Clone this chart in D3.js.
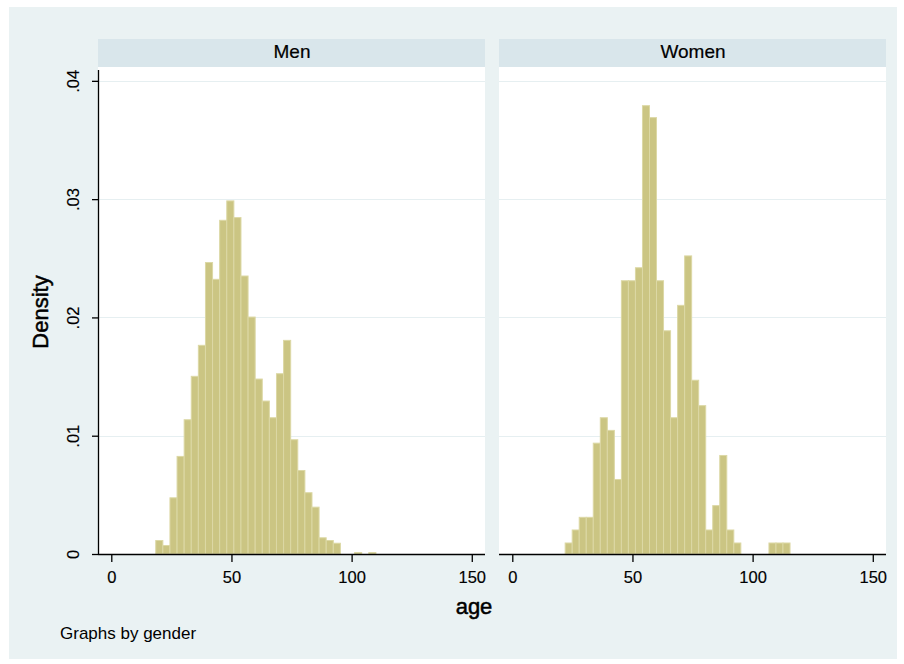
<!DOCTYPE html>
<html>
<head>
<meta charset="utf-8">
<script src="https://cdn.jsdelivr.net/npm/d3@7"></script>
<style>
  html, body { margin: 0; padding: 0; background: #ffffff; }
  svg { display: block; }
  text { font-family: "Liberation Sans", Arial, sans-serif; fill: #000; }
</style>
</head>
<body>
<script>
// Age histograms (density scale), one panel per gender
const panels = ["Men", "Women"];

// Men: 31 bins starting at 18.5, each 2.955 years wide
const menBinStart = 18.5;
const menBinWidth = 2.955;
const menDensity = [
  0.00114, 0.00072, 0.00475, 0.00825, 0.01135, 0.01502, 0.01764, 0.02464,
  0.02322, 0.02821, 0.02985, 0.02844, 0.02350, 0.02003, 0.01479, 0.01293,
  0.01152, 0.01524, 0.01806, 0.00966, 0.00706, 0.00518, 0.00396, 0.00137,
  0.00114, 0.00091, 0, 0, 0.00012, 0, 0.00012
];

// Women: 32 bins starting at 22.0, each 2.924 years wide
const womenBinStart = 22.0;
const womenBinWidth = 2.924;
const womenDensity = [
  0.00093, 0.00203, 0.00310, 0.00310, 0.00937, 0.01152, 0.01045, 0.00630,
  0.02310, 0.02310, 0.02420, 0.03790, 0.03689, 0.02310, 0.01887, 0.01152,
  0.02102, 0.02520, 0.01469, 0.01254, 0.00203, 0.00409, 0.00833, 0.00203,
  0.00093, 0, 0, 0, 0, 0.00093, 0.00093, 0.00093
];

const xTicks = [0, 50, 100, 150];
const yTicks = [0, 0.01, 0.02, 0.03, 0.04];
const yTickLabels = ["0", ".01", ".02", ".03", ".04"];

const xTitle = "age";
const yTitle = "Density";
const note = "Graphs by gender";

const series = [
  { name: panels[0], start: menBinStart, width: menBinWidth, values: menDensity },
  { name: panels[1], start: womenBinStart, width: womenBinWidth, values: womenDensity }
];

const W = 904, H = 664;
const svg = d3.select("body").append("svg").attr("width", W).attr("height", H);

// outer graph region
svg.append("rect").attr("x", 9).attr("y", 7).attr("width", 888).attr("height", 652)
  .attr("fill", "#eaf2f3");

const panelLeft = [98, 499];
const panelW = 387;
const stripTop = 39, plotTop = 67, plotBottom = 554;

const x = d3.scaleLinear().domain([-5.53, 155.5]).range([0, panelW]);
const y = d3.scaleLinear().domain([0, 0.04117]).range([plotBottom, plotTop]);

const fillCol = "#cbc583";
const edgeCol = "#dcd8a5";

series.forEach((s, pi) => {
  const g = svg.append("g").attr("transform", `translate(${panelLeft[pi]},0)`);

  // strip label
  g.append("rect").attr("x", 0).attr("y", stripTop).attr("width", panelW)
    .attr("height", plotTop - stripTop).attr("fill", "#d9e6eb");
  g.append("text").attr("x", panelW / 2 + 0.5).attr("y", 58)
    .attr("text-anchor", "middle").attr("font-size", 19)
    .attr("stroke", "#000").attr("stroke-width", 0.2).text(s.name);

  // plot area
  g.append("rect").attr("x", 0).attr("y", plotTop).attr("width", panelW)
    .attr("height", plotBottom - plotTop).attr("fill", "#ffffff");

  // horizontal grid
  g.selectAll("line.grid").data(yTicks.slice(1)).enter().append("line")
    .attr("x1", 0).attr("x2", panelW)
    .attr("y1", d => Math.round(y(d)) + 0.5).attr("y2", d => Math.round(y(d)) + 0.5)
    .attr("stroke", "#e6eff1").attr("stroke-width", 1.2);

  // bars
  const bins = s.values.map((v, i) => ({ x0: s.start + i * s.width, x1: s.start + (i + 1) * s.width, v }));
  g.selectAll("rect.bar").data(bins.filter(b => b.v > 0)).enter().append("rect")
    .attr("x", d => x(d.x0))
    .attr("width", d => x(d.x1) - x(d.x0))
    .attr("y", d => y(d.v))
    .attr("height", d => y(0) - y(d.v))
    .attr("fill", fillCol)
    .attr("stroke", edgeCol)
    .attr("stroke-width", 1);

  // x axis
  const xAxis = d3.axisBottom(x).tickValues(xTicks).tickSize(8).tickPadding(9)
    .tickFormat(d3.format("d"));
  const ax = g.append("g").attr("transform", `translate(0,${plotBottom})`).call(xAxis);
  ax.select(".domain").attr("d", `M0,0.5H${panelW}`).attr("stroke", "#000").attr("stroke-width", 1.3);
  ax.selectAll(".tick line").attr("stroke", "#000").attr("stroke-width", 1.3);
  ax.selectAll(".tick text").attr("font-size", 16.5)
    .attr("font-family", '"Liberation Sans", Arial, sans-serif').attr("fill", "#000")
    .attr("stroke", "#000").attr("stroke-width", 0.15);

  // y axis on first panel only
  if (pi === 0) {
    const yAxis = d3.axisLeft(y).tickValues(yTicks).tickSize(6)
      .tickFormat((d, i) => yTickLabels[i]);
    const ay = g.append("g").call(yAxis);
    ay.select(".domain").attr("d", `M0.5,${plotTop + 3}V${plotBottom}`).attr("stroke", "#000").attr("stroke-width", 1.3);
    ay.selectAll(".tick line").attr("stroke", "#000").attr("stroke-width", 1.3);
    ay.selectAll(".tick text")
      .attr("font-size", 16.5).attr("font-family", '"Liberation Sans", Arial, sans-serif').attr("fill", "#000")
      .attr("stroke", "#000").attr("stroke-width", 0.15)
      .attr("x", null).attr("dy", null).attr("text-anchor", "middle")
      .attr("transform", "translate(-25,0) rotate(-90)")
      .attr("y", 0).attr("dy", "0.36em");
  }
});

// axis titles and note
svg.append("text").attr("x", 474).attr("y", 614).attr("text-anchor", "middle")
  .attr("font-size", 22).attr("stroke", "#000").attr("stroke-width", 0.5).text(xTitle);
svg.append("text").attr("transform", "translate(48,312) rotate(-90)")
  .attr("text-anchor", "middle").attr("font-size", 22)
  .attr("stroke", "#000").attr("stroke-width", 0.5).text(yTitle);
svg.append("text").attr("x", 60).attr("y", 639).attr("font-size", 17).text(note);
</script>
</body>
</html>
